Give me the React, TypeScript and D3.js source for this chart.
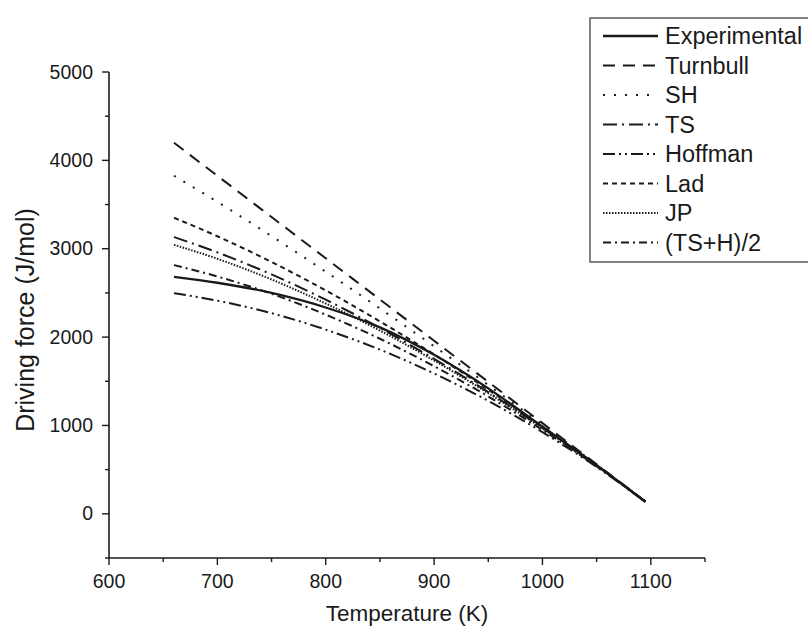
import React from "react";
import * as d3 from "d3";

const temps = [660, 700, 750, 800, 850, 900, 950, 1000, 1050, 1095];
const experimental = [2682, 2615, 2500, 2335, 2110, 1800, 1420, 985, 550, 135];
const turnbull = [4199, 3825, 3359, 2892, 2426, 1959, 1493, 1026, 560, 140];
const sh = [3826, 3530, 3143, 2740, 2324, 1896, 1458, 1010, 555, 140];
const ts = [3132, 2959, 2709, 2423, 2104, 1754, 1377, 973, 544, 139];
const hoffman = [2497, 2412, 2270, 2084, 1858, 1588, 1278, 924, 530, 138];
const lad = [3350, 3141, 2850, 2528, 2178, 1803, 1405, 986, 548, 139];
const jp = [3044, 2886, 2652, 2380, 2074, 1734, 1365, 967, 543, 139];
const tsh = [2815, 2686, 2490, 2254, 1981, 1671, 1328, 949, 537, 139];

const seriesNames = ["Experimental", "Turnbull", "SH", "TS", "Hoffman", "Lad", "JP", "(TS+H)/2"];
const seriesValues = [experimental, turnbull, sh, ts, hoffman, lad, jp, tsh];
const dashes = ["", "12,8", "2,9", "14,5,2,5", "12,4,2,4,2,4", "5,4", "1.5,1.5", "8,4,2,4"];

const xMajor = [600, 700, 800, 900, 1000, 1100];
const xMinor = [650, 750, 850, 950, 1050, 1150];
const yMajor = [0, 1000, 2000, 3000, 4000, 5000];
const yMinor = [-500, 500, 1500, 2500, 3500, 4500];

export default function App() {
  const x = d3.scaleLinear().domain([600, 1150]).range([109, 705]);
  const y = d3.scaleLinear().domain([-500, 5000]).range([558, 72]);
  const line = d3
    .line<[number, number]>()
    .x((d) => x(d[0]))
    .y((d) => y(d[1]))
    .curve(d3.curveMonotoneX);
  const font = "'Liberation Sans', Arial, sans-serif";
  const ink = "#1a1a1a";

  return (
    <svg
      width={808}
      height={635}
      style={{ position: "absolute", left: 0, top: 0, background: "#fff" }}
      fontFamily={font}
    >
      <rect x={0} y={0} width={808} height={635} fill="#fff" />
      <line x1={109} x2={109} y1={y(5000)} y2={y(-500)} stroke={ink} strokeWidth={1.6} />
      <line x1={109} x2={x(1150)} y1={558} y2={558} stroke={ink} strokeWidth={1.6} />
      {xMajor.map((t) => (
        <g key={"xm" + t}>
          <line x1={x(t)} x2={x(t)} y1={558} y2={565} stroke={ink} strokeWidth={1.4} />
          <text x={x(t)} y={588} textAnchor="middle" fontSize={19.5} fill={ink}>
            {t}
          </text>
        </g>
      ))}
      {xMinor.map((t) => (
        <line key={"xn" + t} x1={x(t)} x2={x(t)} y1={558} y2={562} stroke={ink} strokeWidth={1.4} />
      ))}
      {yMajor.map((v) => (
        <g key={"ym" + v}>
          <line x1={102} x2={109} y1={y(v)} y2={y(v)} stroke={ink} strokeWidth={1.4} />
          <text x={93} y={y(v) + 6.5} textAnchor="end" fontSize={19.5} fill={ink}>
            {v}
          </text>
        </g>
      ))}
      {yMinor.map((v) => (
        <line key={"yn" + v} x1={105} x2={109} y1={y(v)} y2={y(v)} stroke={ink} strokeWidth={1.4} />
      ))}
      <text x={407} y={621} textAnchor="middle" fontSize={22.5} fill={ink}>
        Temperature (K)
      </text>
      <text
        transform={`translate(34,${320}) rotate(-90)`}
        textAnchor="middle"
        fontSize={25}
        fill={ink}
      >
        Driving force (J/mol)
      </text>
      {seriesValues.map((vals, i) => (
        <path
          key={"s" + i}
          d={line(temps.map((t, j) => [t, vals[j]] as [number, number])) || ""}
          fill="none"
          stroke={ink}
          strokeWidth={i === 0 ? 2.3 : 2}
          strokeDasharray={dashes[i] || undefined}
        />
      ))}
      <rect x={590} y={18} width={230} height={244} fill="#fff" stroke="#333" strokeWidth={1.2} />
      {seriesNames.map((name, i) => {
        const ly = 36 + i * 29.5;
        return (
          <g key={"l" + i}>
            <line
              x1={603}
              x2={658}
              y1={ly}
              y2={ly}
              stroke={ink}
              strokeWidth={i === 0 ? 2.3 : 2}
              strokeDasharray={dashes[i] || undefined}
            />
            <text x={665} y={ly + 8} fontSize={23.5} fill={ink}>
              {name}
            </text>
          </g>
        );
      })}
    </svg>
  );
}
